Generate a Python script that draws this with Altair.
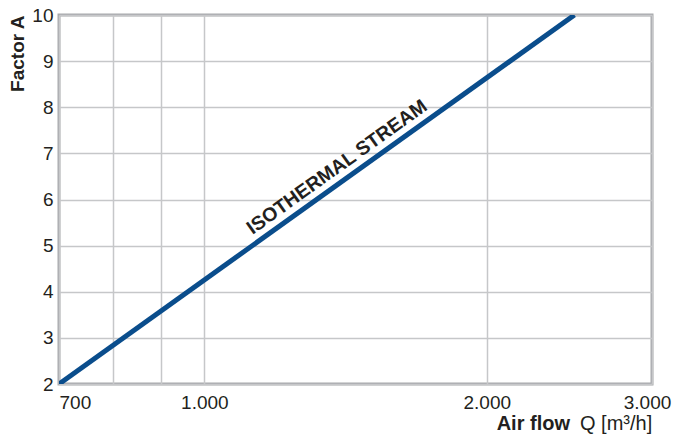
import altair as alt
import pandas as pd

# Data
flow = [700, 2480]          # air flow Q [m3/h]
factor = [2, 10]            # factor A
x_ticks = [700, 800, 900, 1000, 2000, 3000]
y_ticks = [2, 3, 4, 5, 6, 7, 8, 9, 10]
label_text = ["ISOTHERMAL STREAM"]
label_x = [1385]
label_y = [6.7]

FONT = "Liberation Sans"
TXT = "#231f20"
LINE = "#0a4d8c"

line_df = pd.DataFrame({"q": flow, "a": factor})
lab_df = pd.DataFrame({"t": label_text, "q": label_x, "a": label_y})
one = pd.DataFrame({"k": [0]})

xscale = alt.Scale(type="log", domain=[700, 3000], nice=False)
yscale = alt.Scale(domain=[2, 10], nice=False, zero=False)

xaxis = alt.Axis(
    values=x_ticks,
    labelExpr="(datum.value == 800 || datum.value == 900) ? '' : replace(format(datum.value, ','), ',', '.')",
    labelAlign={"condition": {"test": "datum.value == 700", "value": "left"}, "value": "center"},
    labelOffset={"condition": {"test": "datum.value == 3000", "value": -5}, "value": 0},
    title=None,
    labelPadding=9,
)
yaxis = alt.Axis(
    values=y_ticks,
    title="Factor A",
    titleAngle=270,
    titleAlign="right",
    titleBaseline="alphabetic",
    titleX=-36,
    titleY=0,
    titleFont=FONT,
    titleFontSize=19,
    titleFontWeight="bold",
    titleColor=TXT,
    labelPadding=6,
)

line = alt.Chart(line_df).mark_line(color=LINE, strokeWidth=5, clip=True).encode(
    x=alt.X("q:Q", scale=xscale, axis=xaxis),
    y=alt.Y("a:Q", scale=yscale, axis=yaxis),
)

ann = alt.Chart(lab_df).mark_text(
    font=FONT, fontSize=19.5, fontWeight="bold", color=TXT, angle=324.4,
    align="center", baseline="middle",
).encode(x=alt.X("q:Q", scale=xscale), y=alt.Y("a:Q", scale=yscale), text="t:N")

t1 = alt.Chart(one).mark_text(
    font=FONT, fontSize=20, fontWeight="bold", color=TXT, align="right", baseline="middle", clip=False
).encode(x=alt.value(511), y=alt.value(409), text=alt.value("Air flow"))
t2 = alt.Chart(one).mark_text(
    font=FONT, fontSize=20, color=TXT, align="left", baseline="middle", clip=False
).encode(x=alt.value(521), y=alt.value(409), text=alt.value("Q [m³/h]"))

chart = alt.layer(line, ann, t1, t2).properties(
    width=593, height=369,
    autosize=alt.AutoSizeParams(type="none"),
    padding={"left": 51, "top": 7, "right": 20, "bottom": 57},
).configure_view(
    stroke="#a7a9ac", strokeWidth=3
).configure_axis(
    domain=False, ticks=False, grid=True, gridColor="#c6c7c9", gridWidth=1.5,
    labelFont=FONT, labelFontSize=19, labelColor=TXT,
)

chart.save("out.html", embed_options={"renderer": "svg", "actions": False})
